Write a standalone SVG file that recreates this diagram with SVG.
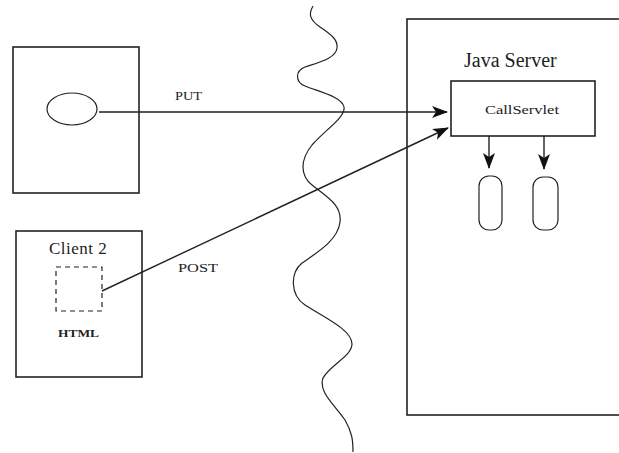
<svg xmlns="http://www.w3.org/2000/svg" width="619" height="453" viewBox="0 0 619 453">
<style>
.box{fill:none;stroke:#222;stroke-width:1.6}
.thin{fill:none;stroke:#222;stroke-width:1.2}
.t{font-family:"Liberation Serif","Times New Roman",serif;fill:#222}
.con{fill:none;stroke:#222;stroke-width:1.4}
</style>
<defs>
<marker id="ah" viewBox="0 0 16 12" refX="15" refY="6" markerWidth="16" markerHeight="12" markerUnits="userSpaceOnUse" orient="auto">
<path d="M0,0 L16,6 L0,12 L4,6 Z" fill="#111"/>
</marker>
</defs>
<rect x="0" y="0" width="619" height="453" fill="#fff"/>
<g id="client1">
<rect class="box" x="13" y="47" width="126" height="146"/>
<ellipse class="thin" cx="72" cy="109" rx="25" ry="16"/>
</g>
<g id="client2">
<rect class="box" x="16" y="231" width="126" height="146"/>
<text class="t" x="49" y="254" font-size="17" letter-spacing="0.5">Client 2</text>
<rect class="thin" x="56" y="267" width="46" height="44" stroke-dasharray="5,4"/>
<text class="t" x="58" y="337" font-size="11" font-weight="bold" textLength="41" lengthAdjust="spacingAndGlyphs">HTML</text>
</g>
<g id="server">
<rect class="box" x="407" y="19" width="220" height="396"/>
<text class="t" x="464" y="67" font-size="20">Java Server</text>
</g>
<g id="callservlet">
<rect class="box" x="451" y="81" width="144" height="55"/>
<text class="t" x="485" y="114" font-size="12" textLength="74" lengthAdjust="spacingAndGlyphs">CallServlet</text>
</g>
<g id="db1">
<rect class="thin" x="479" y="176" width="23" height="54" rx="10" ry="10"/>
</g>
<g id="db2">
<rect class="thin" x="533" y="177" width="25" height="53" rx="10" ry="10"/>
</g>
<g id="boundary">
<path class="thin" d="M313,6 C308,14 310,20 320,27 C332,35 338,40 337,48 C336,58 320,62 305,67 C295,71 295,82 305,86 C320,92 342,97 344,107 C346,117 325,130 312,145 C300,160 300,175 312,185 C328,198 342,205 340,222 C338,240 318,252 302,263 C290,273 290,295 305,305 C325,318 352,330 352,344 C352,356 330,365 323,378 C318,392 335,405 345,420 C352,432 353,440 353,452"/>
</g>
<g id="connectors">
<line class="con" x1="99" y1="112" x2="447" y2="112" marker-end="url(#ah)"/>
<line class="con" x1="102" y1="291" x2="448" y2="128" marker-end="url(#ah)"/>
<line class="con" x1="489" y1="136" x2="489" y2="168" marker-end="url(#ah)"/>
<line class="con" x1="544" y1="136" x2="544" y2="169" marker-end="url(#ah)"/>
<text class="t" x="175" y="100" font-size="12" textLength="27" lengthAdjust="spacingAndGlyphs">PUT</text>
<text class="t" x="178" y="272" font-size="12" textLength="40" lengthAdjust="spacingAndGlyphs">POST</text>
</g>
</svg>
